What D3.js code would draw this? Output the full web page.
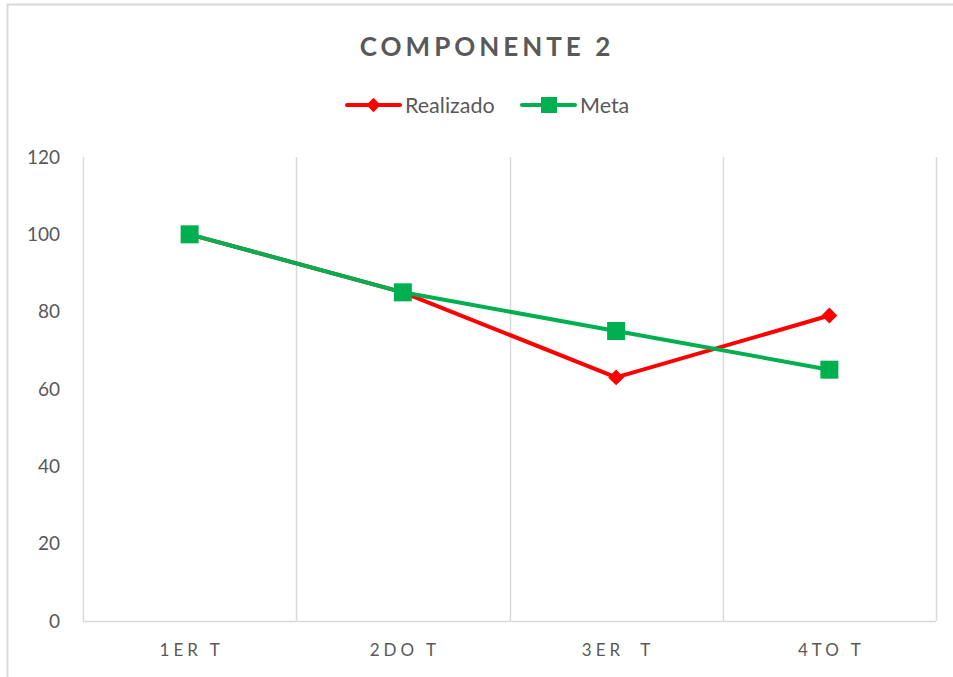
<!DOCTYPE html>
<html>
<head>
<meta charset="utf-8">
<script src="https://cdn.jsdelivr.net/npm/d3@7"></script>
<style>
  body { margin: 0; background: #fff; }
  svg { font-family: Lato, "Open Sans", sans-serif; }
</style>
</head>
<body>
<svg class="chart" width="953" height="677"></svg>
<script>
var categories = ["1ER T", "2DO T", "3ER  T", "4TO T"];
var realizado = [100, 85, 63, 79];
var meta = [100, 85, 75, 65];
var yTicks = [0, 20, 40, 60, 80, 100, 120];

var svg = d3.select("svg.chart"),
    margin = {top: 157, right: 17, bottom: 56, left: 83};
var width = 953 - margin.left - margin.right,
    height = 677 - margin.top - margin.bottom;

// chart frame
svg.append("path")
    .attr("d", "M7.5,677 V4.5 H953")
    .attr("fill", "none")
    .attr("stroke", "#d9d9d9")
    .attr("stroke-width", 2);

var g = svg.append("g").attr("transform", "translate(" + margin.left + "," + margin.top + ")");

var x = d3.scaleBand().domain(categories).range([0, width]);
var y = d3.scaleLinear().domain([0, 120]).range([height, 0]);

// vertical gridlines at category boundaries
var bounds = categories.map(function(c) { return x(c); }).concat([width]);
g.selectAll(".vgrid").data(bounds).enter().append("line")
    .attr("x1", function(d) { return Math.round(d) + 0.5; })
    .attr("x2", function(d) { return Math.round(d) + 0.5; })
    .attr("y1", 0).attr("y2", height)
    .attr("stroke", "#d9d9d9").attr("stroke-width", 1.5);

// x axis line
g.append("line")
    .attr("x1", 0).attr("x2", width)
    .attr("y1", height + 0.5).attr("y2", height + 0.5)
    .attr("stroke", "#d9d9d9").attr("stroke-width", 1.5);

// y labels
g.selectAll(".ylab").data(yTicks).enter().append("text")
    .attr("x", -23).attr("y", function(d) { return y(d); })
    .attr("dy", "0.35em")
    .attr("text-anchor", "end")
    .attr("fill", "#595959")
    .attr("font-size", 19)
    .text(function(d) { return d; });

// x labels
g.selectAll(".xlab").data(categories).enter().append("text")
    .attr("x", function(d) { return x(d) + x.bandwidth() / 2 + 2; })
    .attr("y", height + 35)
    .attr("text-anchor", "middle")
    .attr("fill", "#595959")
    .attr("font-size", 17)
    .attr("letter-spacing", "4px")
    .style("white-space", "pre")
    .text(function(d) { return d; });

var line = d3.line()
    .x(function(d, i) { return x(categories[i]) + x.bandwidth() / 2; })
    .y(function(d) { return y(d); });

// Realizado
g.append("path").datum(realizado)
    .attr("d", line)
    .attr("fill", "none").attr("stroke", "#ff0000")
    .attr("stroke-width", 4).attr("stroke-linejoin", "round");
g.selectAll(".rmark").data(realizado).enter().append("path")
    .attr("d", d3.symbol().type(d3.symbolDiamond2).size(160))
    .attr("transform", function(d, i) {
      return "translate(" + (x(categories[i]) + x.bandwidth() / 2) + "," + y(d) + ")";
    })
    .attr("fill", "#ff0000");

// Meta
g.append("path").datum(meta)
    .attr("d", line)
    .attr("fill", "none").attr("stroke", "#00b050")
    .attr("stroke-width", 4).attr("stroke-linejoin", "round");
g.selectAll(".mmark").data(meta).enter().append("rect")
    .attr("x", function(d, i) { return x(categories[i]) + x.bandwidth() / 2 - 9; })
    .attr("y", function(d) { return y(d) - 9; })
    .attr("width", 18).attr("height", 18)
    .attr("fill", "#00b050");

// title
svg.append("text")
    .attr("x", 487).attr("y", 56)
    .attr("text-anchor", "middle")
    .attr("fill", "#595959")
    .attr("font-size", 26).attr("font-weight", "bold")
    .attr("letter-spacing", "4px")
    .text("COMPONENTE 2");

// legend
var legend = [
  {name: "Realizado", color: "#ff0000", x: 347, sym: "diamond"},
  {name: "Meta", color: "#00b050", x: 522, sym: "square"}
];
var lg = svg.selectAll(".legend").data(legend).enter().append("g")
    .attr("transform", function(d) { return "translate(" + d.x + ",105)"; });
lg.append("line")
    .attr("x1", 0).attr("x2", 53).attr("y1", 0).attr("y2", 0)
    .attr("stroke", function(d) { return d.color; })
    .attr("stroke-width", 4).attr("stroke-linecap", "round");
lg.each(function(d) {
  var s = d3.select(this);
  if (d.sym === "diamond") {
    s.append("path")
      .attr("d", d3.symbol().type(d3.symbolDiamond2).size(130))
      .attr("transform", "translate(26.5,0)")
      .attr("fill", d.color);
  } else {
    s.append("rect")
      .attr("x", 19).attr("y", -8).attr("width", 16).attr("height", 16)
      .attr("fill", d.color);
  }
});
lg.append("text")
    .attr("x", 58).attr("y", 0).attr("dy", "0.35em")
    .attr("fill", "#595959").attr("font-size", 21.5)
    .text(function(d) { return d.name; });
</script>
</body>
</html>
